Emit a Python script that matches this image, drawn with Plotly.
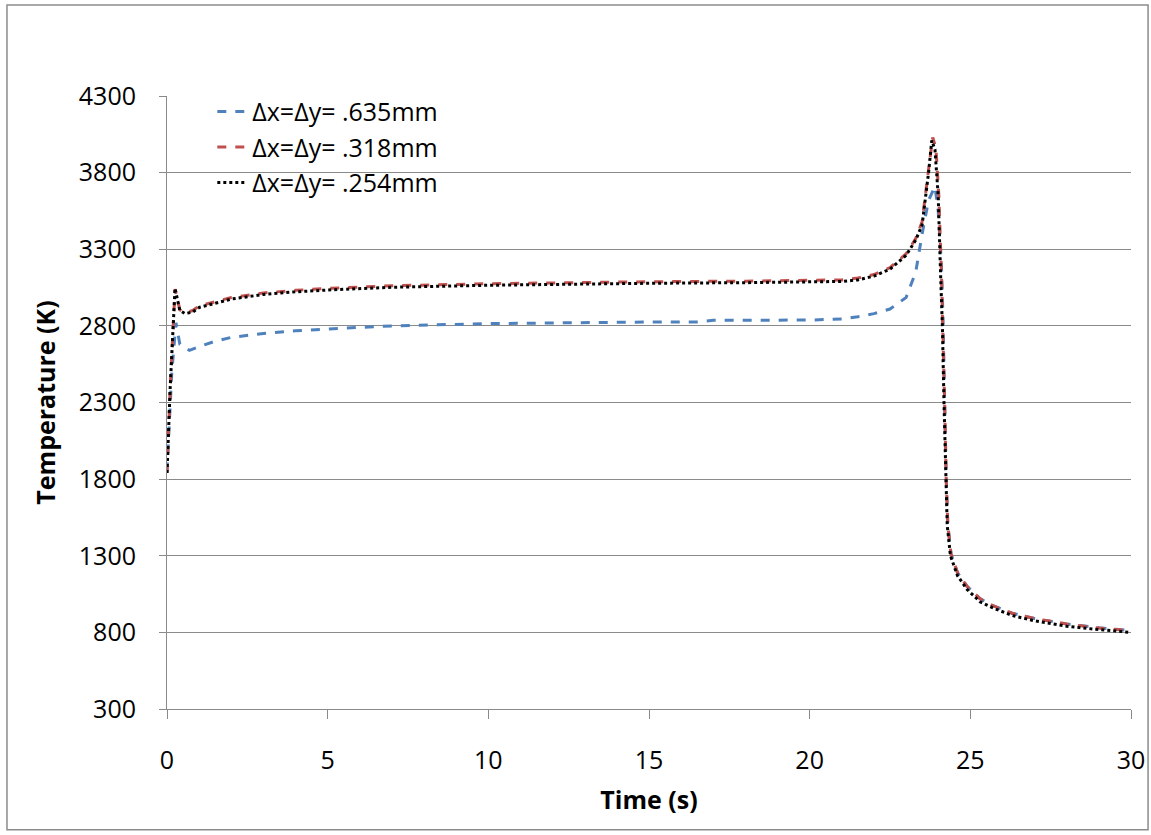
import plotly.graph_objects as go

# ---- data ----
t_635 = [0, 0.05, 0.15, 0.28, 0.4, 0.7, 1, 1.5, 2, 3, 4, 5, 6, 7, 10, 12, 15, 16.5, 17, 20, 21, 21.5, 22,
         22.5, 23, 23.3, 23.5, 23.7, 23.9, 24.0, 24.1, 24.15, 24.2, 24.25, 24.3, 24.4, 24.6, 24.9, 25.3,
         25.7, 26.3, 27, 28, 29, 30]
T_635 = [1850, 2100, 2500, 2820, 2680, 2640, 2665, 2700, 2725, 2750, 2768, 2780, 2792, 2800, 2815, 2820,
         2825, 2826, 2836, 2838, 2845, 2860, 2880, 2910, 2985, 3150, 3400, 3620, 3710, 3550, 3200, 2850,
         2300, 1800, 1500, 1310, 1190, 1100, 1020, 975, 925, 890, 855, 830, 812]

t_318 = [0, 0.1, 0.25, 0.4, 0.56, 0.8, 1.0, 1.5, 2, 3, 4, 5, 7, 10, 12, 15, 18, 20, 21, 21.5, 22, 22.5,
         23, 23.3, 23.5, 23.7, 23.83, 23.93, 24.02, 24.1, 24.15, 24.2, 24.25, 24.3, 24.4, 24.6, 24.9, 25.3,
         25.7, 26.3, 27, 28, 29, 30]
T_318 = [1840, 2400, 3040, 2905, 2885, 2900, 2930, 2960, 2985, 3015, 3032, 3044, 3062, 3075, 3082, 3088,
         3092, 3095, 3100, 3112, 3135, 3180, 3270, 3370, 3480, 3820, 4030, 3960, 3650, 3150, 2800, 2300,
         1800, 1500, 1310, 1190, 1100, 1020, 975, 925, 890, 855, 828, 810]

t_254 = [0, 0.1, 0.25, 0.4, 0.56, 0.8, 1.0, 1.5, 2, 3, 4, 5, 7, 10, 12, 15, 18, 20, 21, 21.5, 22, 22.5,
         23, 23.3, 23.5, 23.7, 23.8, 23.9, 24.0, 24.08, 24.13, 24.18, 24.23, 24.28, 24.38, 24.6, 24.9,
         25.3, 25.7, 26.3, 27, 28, 29, 30]
T_254 = [1840, 2400, 3045, 2900, 2880, 2890, 2920, 2950, 2975, 3005, 3022, 3034, 3052, 3065, 3072, 3078,
         3082, 3085, 3090, 3100, 3125, 3170, 3260, 3360, 3460, 3800, 4010, 3950, 3650, 3100, 2800, 2300,
         1800, 1500, 1300, 1170, 1080, 1000, 960, 910, 875, 840, 818, 800]

names = ["Δx=Δy= .635mm", "Δx=Δy= .318mm", "Δx=Δy= .254mm"]
y_ticks = [300, 800, 1300, 1800, 2300, 2800, 3300, 3800, 4300]
x_ticks = [0, 5, 10, 15, 20, 25, 30]

FONT = "Open Sans"
GRID = "#8a8a8a"

fig = go.Figure()
fig.add_trace(go.Scatter(x=t_635, y=T_635, mode="lines", name=names[0],
                         line=dict(color="#4F81BD", width=3, dash="dash")))
fig.add_trace(go.Scatter(x=t_318, y=T_318, mode="lines", name=names[1],
                         line=dict(color="#C0504D", width=3, dash="dash")))
fig.add_trace(go.Scatter(x=t_254, y=T_254, mode="lines", name=names[2],
                         line=dict(color="#000000", width=3, dash="dot")))

fig.update_layout(
    width=1151, height=835,
    margin=dict(l=167, r=20, t=96, b=126, autoexpand=False),
    paper_bgcolor="white", plot_bgcolor="white",
    font=dict(family=FONT, size=25, color="#000000"),
    showlegend=True,
    legend=dict(x=0.047, y=1.012, xanchor="left", yanchor="top",
                bgcolor="rgba(0,0,0,0)", font=dict(size=25, family=FONT),
                tracegroupgap=0),
    xaxis=dict(range=[0, 30], tickvals=x_ticks, showgrid=False, zeroline=False,
               showline=True, linecolor=GRID, linewidth=1, automargin=False,
               ticks="outside", ticklen=9, tickcolor=GRID,
               ticklabelstandoff=20,
               tickfont=dict(size=25, family=FONT),
               title=dict(text="<b>Time (s)</b>", font=dict(size=25, family=FONT), standoff=16)),
    yaxis=dict(range=[300, 4300], tickvals=y_ticks, showgrid=True, gridcolor=GRID, gridwidth=1,
               zeroline=False, showline=True, linecolor=GRID, linewidth=1, automargin=False,
               ticks="outside", ticklen=7, tickcolor=GRID,
               ticklabelstandoff=18,
               tickfont=dict(size=25, family=FONT),
               title=dict(text="<b>Temperature (K)</b>", font=dict(size=25, family=FONT), standoff=16)),
    shapes=[dict(type="rect", xref="paper", yref="paper",
                 x0=-0.166, x1=1.0177, y0=-0.197, y1=1.1485,
                 line=dict(color="#8c8c8c", width=1.5), fillcolor="rgba(0,0,0,0)", layer="below")],
)

fig.write_html("out.html")
